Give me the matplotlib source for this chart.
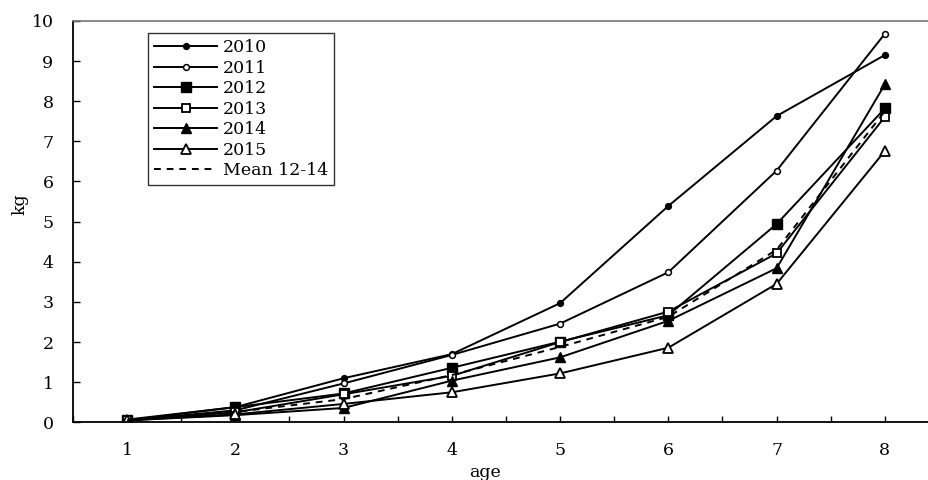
import matplotlib
matplotlib.use("Agg")
import matplotlib.pyplot as plt
import numpy as np

plt.rcParams['font.family'] = ['DejaVu Serif']

ages = [1, 2, 3, 4, 5, 6, 7, 8]
y2010 = [0.05, 0.38, 1.10, 1.70, 2.97, 5.39, 7.63, 9.15]
y2011 = [0.05, 0.30, 0.97, 1.68, 2.46, 3.74, 6.27, 9.68]
y2012 = [0.07, 0.38, 0.72, 1.36, 2.01, 2.67, 4.94, 7.82]
y2013 = [0.05, 0.25, 0.70, 1.16, 2.00, 2.76, 4.21, 7.61]
y2014 = [0.05, 0.18, 0.36, 1.04, 1.62, 2.53, 3.84, 8.42]
y2015 = [0.05, 0.20, 0.46, 0.75, 1.22, 1.86, 3.45, 6.76]
ymean = [0.05, 0.26, 0.58, 1.18, 1.88, 2.63, 4.30, 7.75]

fig = plt.figure(figsize=(9.29, 4.8), dpi=100)
ax = fig.add_axes([72.9/929, 1-422.4/480, (939-72.9)/929, (422.4-20.9)/480])

lw = 1.4
ax.plot(ages, y2010, '-', color='black', lw=lw, marker='o', ms=4.2, mfc='black', mec='black', label='2010')
ax.plot(ages, y2011, '-', color='black', lw=lw, marker='o', ms=4.2, mfc='white', mec='black', mew=1.1, label='2011')
ax.plot(ages, y2012, '-', color='black', lw=lw, marker='s', ms=6.5, mfc='black', mec='black', label='2012')
ax.plot(ages, y2013, '-', color='black', lw=lw, marker='s', ms=6.0, mfc='white', mec='black', mew=1.3, label='2013')
ax.plot(ages, y2014, '-', color='black', lw=lw, marker='^', ms=7.0, mfc='black', mec='black', label='2014')
ax.plot(ages, y2015, '-', color='black', lw=lw, marker='^', ms=7.0, mfc='white', mec='black', mew=1.3, label='2015')
ax.plot(ages, ymean, '--', color='black', lw=lw, dashes=(3.5, 3), label='Mean 12-14')

ax.set_xlim(0.5, 8.5)
ax.set_ylim(0, 10)
ax.set_yticks(range(0, 11))
ax.set_xticks(ages)
ax.set_xticks(np.arange(0.5, 9.0, 1.0), minor=True)
fs = 12.5
ax.tick_params(axis='y', direction='in', length=5, width=1, labelsize=fs, pad=14, colors='black')
ax.tick_params(axis='x', which='both', direction='in', length=4, width=1, labelsize=fs, pad=14)
ax.tick_params(axis='x', which='minor', labelbottom=False)

for s in ['left', 'bottom']:
    ax.spines[s].set_color('black')
    ax.spines[s].set_linewidth(1.3)
ax.spines['top'].set_color('#777777')
ax.spines['top'].set_linewidth(1.2)
ax.spines['right'].set_visible(False)

fig.text(20/929, 1-204/480, 'kg', rotation=90, ha='center', va='center', fontsize=fs)
fig.text(485/929, 1-477/480, 'age', ha='center', va='baseline', fontsize=fs)

leg = ax.legend(loc='upper left', bbox_to_anchor=(148.3/929, 1-33.3/480),
                bbox_transform=fig.transFigure, fontsize=fs, frameon=True,
                fancybox=False, edgecolor='black', handlelength=3.6,
                handletextpad=0.35, borderpad=0.35, labelspacing=0.2,
                borderaxespad=0)
leg.get_frame().set_linewidth(1.0)

fig.savefig('out.png', dpi=100)
